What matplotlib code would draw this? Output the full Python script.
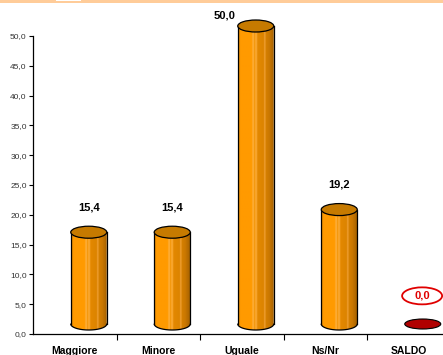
import numpy as np
import matplotlib
matplotlib.use("Agg")
import matplotlib.pyplot as plt
from matplotlib.patches import Ellipse, Polygon, Rectangle
from matplotlib.colors import to_rgb

# ---- data ----
categories = ["Maggiore", "Minore", "Uguale", "Ns/Nr", "SALDO"]
values = [15.4, 15.4, 50.0, 19.2, 0.0]
yticks = [0, 5, 10, 15, 20, 25, 30, 35, 40, 45, 50]

plt.rcParams['font.family'] = ['Liberation Sans', 'DejaVu Sans']

W, H = 443, 355
fig = plt.figure(figsize=(W / 100, H / 100), dpi=100)
fig.patch.set_facecolor("white")

# top peach band
fig.patches.append(Rectangle((0, 1 - 3 / H), 1, 3 / H, transform=fig.transFigure,
                             facecolor="#FFCC99", edgecolor="none", zorder=0))
fig.patches.append(Rectangle((56 / W, 1 - 1.2 / H), 25 / W, 1.2 / H, transform=fig.transFigure,
                             facecolor="white", edgecolor="none", zorder=1))

px_per_x = 83.5
px_per_y = 5.96
x0_px, y0_px = 33, 334
ax_w_px = 5 * px_per_x
ax_h_px = y0_px
ax = fig.add_axes([x0_px / W, (H - y0_px) / H, ax_w_px / W, ax_h_px / H])
ax.set_xlim(-0.5, 4.5)
ax.set_ylim(0, ax_h_px / px_per_y)
ax.set_facecolor("none")

for s in ["top", "right"]:
    ax.spines[s].set_visible(False)
ax.spines["left"].set_bounds(0, 50)
ax.spines["left"].set_linewidth(0.9)
ax.spines["bottom"].set_linewidth(0.9)

ax.set_yticks(yticks)
ax.set_yticklabels([f"{v:.1f}".replace(".", ",") for v in yticks], fontsize=6, color="#333333")
ax.tick_params(axis="y", length=3, width=0.8, pad=1.5)

ax.set_xticks(range(len(categories)))
ax.set_xticklabels(categories, fontsize=7.5, fontweight="bold")
ax.set_xticks([i + 0.5 for i in range(len(categories))], minor=True)
ax.tick_params(axis="x", which="major", length=0, pad=8.5)
ax.tick_params(axis="x", which="minor", length=4, width=0.8)

# cylinder geometry (3D oblique offset)
dx = 14 / px_per_x
dy = 10 / px_per_y
cw = 36 / px_per_x
eh = 12 / px_per_y

# horizontal shading profile
stops = [(0.0, "#D98200"), (0.06, "#FF9A00"), (0.38, "#FF9A00"), (0.42, "#FFB347"),
         (0.46, "#F29200"), (0.50, "#FFB040"), (0.55, "#E38800"), (0.72, "#DC8400"),
         (0.75, "#F5A640"), (0.78, "#D68000"), (0.88, "#C97700"), (1.0, "#A86300")]
n = 60
u = np.linspace(0, 1, n)
sp = [s[0] for s in stops]
cols = np.array([to_rgb(s[1]) for s in stops])
grad = np.stack([np.interp(u, sp, cols[:, k]) for k in range(3)], axis=-1)[None, :, :]

label_cap = 53.4
for i, (cat, v) in enumerate(zip(categories, values)):
    cx = i + dx
    b = dy
    t = v + dy
    a = cw / 2
    if v > 0:
        th = np.linspace(np.pi, 2 * np.pi, 60)
        lower = np.column_stack([cx + a * np.cos(th), b + (eh / 2) * np.sin(th)])
        verts = np.vstack([lower, [[cx + a, t], [cx - a, t]]])
        body = Polygon(verts, closed=True, facecolor="none", edgecolor="none",
                       transform=ax.transData)
        ax.add_patch(body)
        im = ax.imshow(grad, extent=[cx - a, cx + a, b - eh, t], aspect="auto",
                       zorder=2, interpolation="bilinear")
        im.set_clip_path(body)
        ax.plot(lower[:, 0], lower[:, 1], color="black", lw=0.9, zorder=3, solid_capstyle="round")
        ax.plot([cx - a, cx - a], [b, t], color="black", lw=0.9, zorder=3)
        ax.plot([cx + a, cx + a], [b, t], color="black", lw=0.9, zorder=3)
        ax.add_patch(Ellipse((cx, t), cw, eh, facecolor="#C67A00", edgecolor="black",
                             lw=0.9, zorder=4))
        ly = v + dy + 4.2
        lx = cx
        if ly > label_cap:
            ly = label_cap
            lx = cx - 0.37
        ax.text(lx, ly, f"{v:.1f}".replace(".", ","), ha="center", va="center",
                fontsize=8, fontweight="bold", color="black", zorder=5)
    else:
        ax.add_patch(Ellipse((cx, t), cw, 10 / px_per_y, facecolor="#B00000", edgecolor="black",
                             lw=0.8, zorder=4))
        ly = v + 6.4
        lx = i + 0.16
        ax.add_patch(Ellipse((lx, ly), 40 / px_per_x, 17 / px_per_y, facecolor="white",
                             edgecolor="#E00000", lw=1.3, zorder=4))
        ax.text(lx, ly, f"{v:.1f}".replace(".", ","), ha="center", va="center",
                fontsize=8, fontweight="bold", color="#E00000", zorder=5)

fig.savefig("out.png", dpi=100)
